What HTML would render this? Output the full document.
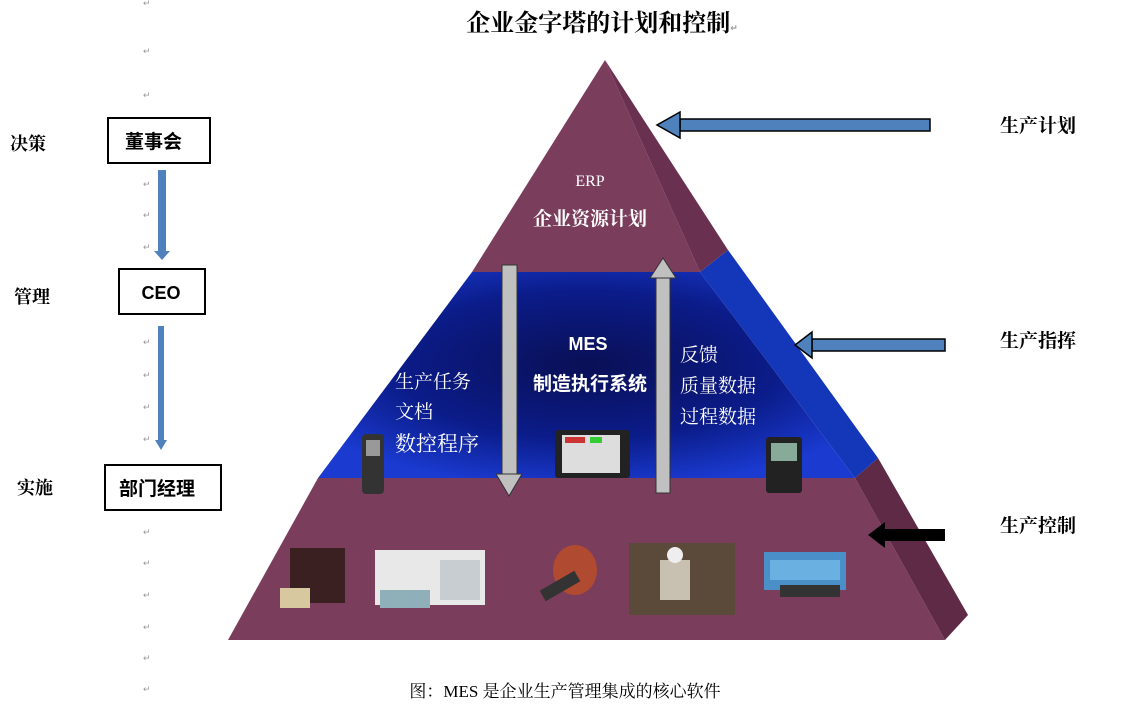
<!DOCTYPE html>
<html><head><meta charset="utf-8"><style>
html,body{margin:0;padding:0;background:#fff;}
svg{display:block;}
text{font-family:"Liberation Serif","Noto Serif CJK SC","Noto Sans CJK SC",serif;}
.s{font-family:"Liberation Sans","Noto Sans CJK SC",sans-serif;}
.rm{fill:#999;font-size:9px;font-family:"DejaVu Sans",sans-serif;}
</style></head><body>
<svg width="1138" height="706" viewBox="0 0 1138 706" xmlns="http://www.w3.org/2000/svg">
<defs>
<radialGradient id="bl" cx="0.5" cy="0.45" r="0.6">
<stop offset="0" stop-color="#0a0f55"/><stop offset="0.6" stop-color="#0b1c8a"/><stop offset="1" stop-color="#1a3ad0"/>
</radialGradient>
</defs>
<text x="602" y="31" text-anchor="middle" font-size="24" font-weight="bold" fill="#000">企业金字塔的计划和控制<tspan class="rm" font-size="10">↵</tspan></text>

<g class="rm">
<text x="143" y="6">↵</text><text x="143" y="54">↵</text><text x="143" y="98">↵</text>
<text x="143" y="187">↵</text><text x="143" y="218">↵</text><text x="143" y="250">↵</text>
<text x="143" y="345">↵</text><text x="143" y="378">↵</text><text x="143" y="410">↵</text><text x="143" y="442">↵</text>
<text x="143" y="535">↵</text><text x="143" y="566">↵</text><text x="143" y="598">↵</text><text x="143" y="630">↵</text><text x="143" y="661">↵</text><text x="143" y="692">↵</text>
</g>

<g font-weight="bold" class="s" font-size="18" fill="#000">
<text x="10" y="150">决策</text>
<text x="14" y="303">管理</text>
<text x="17" y="494">实施</text>
</g>
<rect x="108" y="118" width="102" height="45" fill="#fff" stroke="#000" stroke-width="2"/>
<text x="125" y="148" font-size="19" font-weight="bold" class="s" fill="#000">董事会</text>
<rect x="119" y="269" width="86" height="45" fill="#fff" stroke="#000" stroke-width="2"/>
<text x="161" y="299" font-size="18" font-weight="bold" text-anchor="middle" class="s" fill="#000">CEO</text>
<rect x="105" y="465" width="116" height="45" fill="#fff" stroke="#000" stroke-width="2"/>
<text x="119" y="495" font-size="19" font-weight="bold" class="s" fill="#000">部门经理</text>
<rect x="158" y="170" width="8" height="82" fill="#4f81bd"/>
<polygon points="154,251 170,251 162,260" fill="#4f81bd"/>
<rect x="158" y="326" width="6" height="115" fill="#4f81bd"/>
<polygon points="155,440 167,440 161,450" fill="#4f81bd"/>

<polygon points="318,478 855,478 945,640 228,640" fill="#7b3d5c"/>
<polygon points="855,478 878,458 968,615 945,640" fill="#5e2a45"/>
<polygon points="472,272 700,272 855,478 318,478" fill="url(#bl)"/>
<polygon points="700,272 728,250 878,458 855,478" fill="#1436b8"/>
<polygon points="605,60 700,272 472,272" fill="#7b3d5c"/>
<polygon points="605,60 728,250 700,272" fill="#6a3050"/>

<text x="590" y="186" font-size="16" fill="#fff" text-anchor="middle">ERP</text>
<text x="590" y="225" font-size="19" font-weight="bold" fill="#fff" text-anchor="middle">企业资源计划</text>
<text x="588" y="350" font-size="18" font-weight="bold" fill="#fff" text-anchor="middle" class="s">MES</text>
<text x="590" y="390" font-size="19" font-weight="bold" fill="#fff" text-anchor="middle" class="s">制造执行系统</text>
<g fill="#fff" class="s" font-size="19">
<text x="395" y="388">生产任务</text>
<text x="395" y="418">文档</text>
<text x="395" y="451" font-size="21">数控程序</text>
<text x="680" y="361">反馈</text>
<text x="680" y="392">质量数据</text>
<text x="680" y="423">过程数据</text>
</g>

<rect x="502" y="265" width="15" height="210" fill="#c0c0c0" stroke="#333" stroke-width="1"/>
<polygon points="496,474 522,474 509,496" fill="#c0c0c0" stroke="#333"/>
<rect x="656" y="276" width="14" height="217" fill="#c0c0c0" stroke="#333"/>
<polygon points="650,278 676,278 663,258" fill="#c0c0c0" stroke="#333"/>

<rect x="362" y="434" width="22" height="60" rx="4" fill="#333"/>
<rect x="366" y="440" width="14" height="16" fill="#999"/>
<rect x="555" y="430" width="75" height="48" rx="3" fill="#222"/>
<rect x="562" y="435" width="58" height="38" fill="#ddd"/>
<rect x="565" y="437" width="20" height="6" fill="#c33"/>
<rect x="590" y="437" width="12" height="6" fill="#3c3"/>
<rect x="766" y="437" width="36" height="56" rx="3" fill="#222"/>
<rect x="771" y="443" width="26" height="18" fill="#8a9"/>

<rect x="290" y="548" width="55" height="55" fill="#3a2020"/>
<rect x="280" y="588" width="30" height="20" fill="#d8c8a0"/>
<rect x="375" y="550" width="110" height="55" fill="#e8e8e8"/>
<rect x="440" y="560" width="40" height="40" fill="#c8cdd2"/>
<rect x="380" y="590" width="50" height="18" fill="#8fb0b8"/>
<ellipse cx="575" cy="570" rx="22" ry="25" fill="#b04a30"/>
<rect x="540" y="580" width="40" height="12" fill="#333" transform="rotate(-30 560 586)"/>
<rect x="629" y="543" width="106" height="72" fill="#5b4a3a"/>
<rect x="660" y="560" width="30" height="40" fill="#c8c0b0"/>
<circle cx="675" cy="555" r="8" fill="#eee"/>
<rect x="764" y="552" width="82" height="38" fill="#4a8fc8"/>
<rect x="770" y="560" width="70" height="20" fill="#6ab0e0"/>
<rect x="780" y="585" width="60" height="12" fill="#333"/>

<rect x="680" y="119" width="250" height="12" fill="#4f81bd" stroke="#000" stroke-width="1.5"/>
<polygon points="680,112 680,138 657,125" fill="#4f81bd" stroke="#000" stroke-width="1.5"/>
<rect x="812" y="339" width="133" height="12" fill="#4f81bd" stroke="#000" stroke-width="1.5"/>
<polygon points="812,332 812,358 795,345" fill="#4f81bd" stroke="#000" stroke-width="1.5"/>
<rect x="884" y="529" width="61" height="12" fill="#000"/>
<polygon points="885,522 885,548 868,535" fill="#000"/>
<text x="1000" y="132" font-size="19" font-weight="bold" fill="#000">生产计划</text>
<text x="1000" y="347" font-size="19" font-weight="bold" fill="#000">生产指挥</text>
<text x="1000" y="532" font-size="19" font-weight="bold" fill="#000">生产控制</text>

<text x="565" y="697" font-size="17" fill="#000" text-anchor="middle">图：MES 是企业生产管理集成的核心软件</text>
</svg>
</body></html>
